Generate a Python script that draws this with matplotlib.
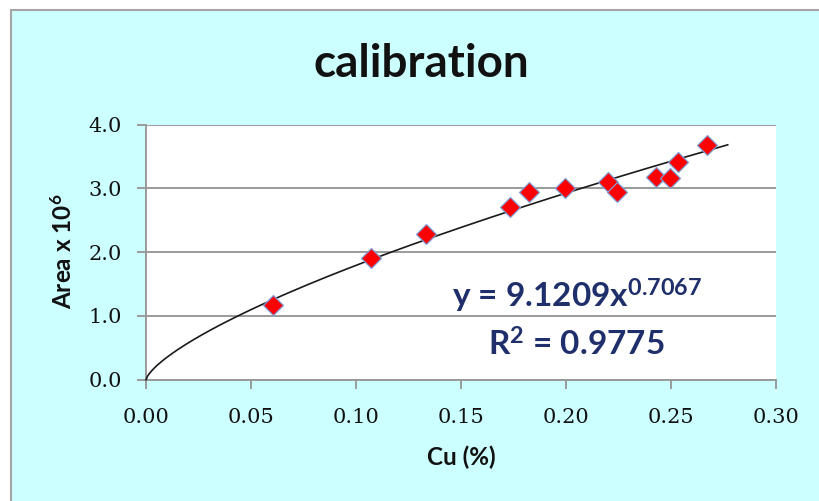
import matplotlib
matplotlib.use("Agg")
import matplotlib.pyplot as plt
from matplotlib.patches import Rectangle
import numpy as np

# ---- data ----
cu_pct = [0.0603, 0.1070, 0.1332, 0.1733, 0.1824, 0.1994, 0.2201, 0.2244, 0.2427, 0.2495, 0.2535, 0.2673]
area_e6 = [1.17, 1.90, 2.29, 2.70, 2.94, 3.01, 3.10, 2.94, 3.18, 3.16, 3.41, 3.68]
fit_a = 9.1209
fit_b = 0.7067
fit_r2 = 0.9775
fit_xmax = 0.277
x_ticks = [0.00, 0.05, 0.10, 0.15, 0.20, 0.25, 0.30]
y_ticks = [0.0, 1.0, 2.0, 3.0, 4.0]

plt.rcParams["mathtext.default"] = "regular"

W, H = 820, 501
fig = plt.figure(figsize=(W / 100, H / 100), dpi=100)
fig.patch.set_facecolor("white")

# chart area background
fig.patches.append(Rectangle((11 / W, -0.05), 1.2, (H - 10) / H + 0.05,
                             transform=fig.transFigure, facecolor="#CCFFFF",
                             edgecolor="#A6A6A6", linewidth=1.5, zorder=-10))

x0, x1 = 146, 776
y_bot, y_top = 379.7, 124.5
ax = fig.add_axes([x0 / W, (H - y_bot) / H, (x1 - x0) / W, (y_bot - y_top) / H])
ax.set_zorder(1)
ax.set_facecolor("white")

ax.set_xlim(0, 0.30)
ax.set_ylim(0, 4.0)
ax.set_xticks(x_ticks)
ax.set_yticks(y_ticks)
ax.set_xticklabels([f"{v:.2f}" for v in x_ticks])
ax.set_yticklabels([f"{v:.1f}" for v in y_ticks])

grid_col = "#9A9A9A"
ax.yaxis.grid(True, color=grid_col, linewidth=1.4, zorder=1)
ax.set_axisbelow(True)
for s in ["top", "right"]:
    ax.spines[s].set_visible(False)
for s in ["left", "bottom"]:
    ax.spines[s].set_color(grid_col)
    ax.spines[s].set_linewidth(1.4)

ax.tick_params(axis="both", direction="out", length=6.5, width=1.4, color=grid_col,
               labelcolor="#111111")
ax.tick_params(axis="y", pad=11)
ax.tick_params(axis="x", pad=14)
for lab in ax.get_xticklabels() + ax.get_yticklabels():
    lab.set_fontfamily("DejaVu Serif")
    lab.set_fontsize(15)

# trendline
xs = np.linspace(0.0, fit_xmax, 400)
ax.plot(xs, fit_a * xs ** fit_b, color="#1a1a1a", linewidth=1.2, zorder=3, clip_on=False)

# data points
ax.plot(cu_pct, area_e6, linestyle="none", marker="D", markersize=10,
        markerfacecolor="#FF0000", markeredgecolor="#7F9FD8", markeredgewidth=0.9,
        zorder=4, clip_on=False)

lab_font = dict(family="Lato", weight="bold", size=17.5, color="#111111")
ax.set_xlabel("Cu (%)", va="center", **lab_font)
ax.xaxis.set_label_coords(0.5, -0.303)
ax.set_ylabel("Area x 10$^{6}$", va="center", **lab_font)
ax.yaxis.set_label_coords(-0.1317, 0.502)

eq_col = "#1F2F6B"
ax.text(0.2055, 1.124, f"y = {fit_a:.4f}x$^{{{fit_b:.4f}}}$", ha="center", va="baseline",
        family="Lato", weight="bold", size=24, color=eq_col, zorder=5)
ax.text(0.2050, 0.38, f"R$^{{2}}$ = {fit_r2:.4f}", ha="center", va="baseline",
        family="Lato", weight="bold", size=24, color=eq_col, zorder=5)

fig.text(421 / W, (H - 77) / H, "calibration", ha="center", va="baseline",
         family="Lato", weight="bold", size=33, color="#111111")

fig.savefig("out.png", dpi=100, facecolor=fig.get_facecolor())
